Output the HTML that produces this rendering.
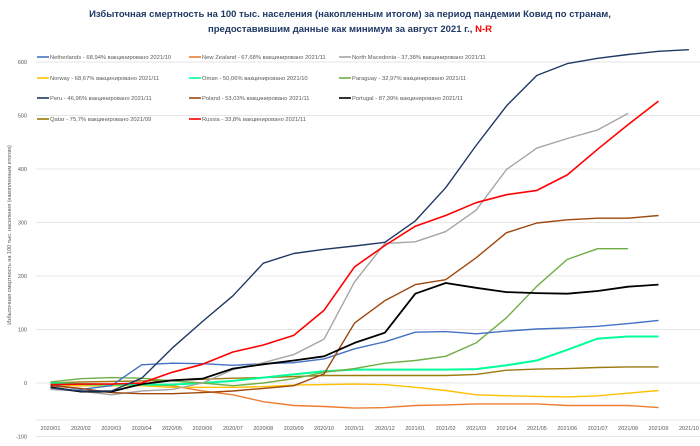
<!DOCTYPE html>
<html><head><meta charset="utf-8"><style>
body{margin:0;background:#fff;}
svg{display:block;font-family:"Liberation Sans","DejaVu Sans",sans-serif;}
</style></head><body>
<svg id="c" width="700" height="446" viewBox="0 0 700 446" xmlns="http://www.w3.org/2000/svg">
<text x="350" y="17" text-anchor="middle" font-size="9.5" font-weight="bold" fill="#1F3864">Избыточная смертность на 100 тыс. населения (накопленным итогом) за период пандемии Ковид  по странам,</text>
<text x="350" y="32" text-anchor="middle" font-size="9.5" font-weight="bold" fill="#1F3864">предоставившим данные как минимум за август 2021 г., <tspan fill="#FF0000">N-R</tspan></text>
<g id="grid" stroke="#E6E6E6" stroke-width="1"></g>
<g id="ylab" font-size="5.5" fill="#595959" text-anchor="end"></g>
<g id="xlab" font-size="5.5" fill="#595959" text-anchor="middle"></g>
<text transform="translate(11,235) rotate(-90)" text-anchor="middle" font-size="5.5" fill="#595959">Избыточная смертность на 100 тыс. населения (накопленным итогом)</text>
<g id="lines" fill="none" stroke-linejoin="round"></g>
<g id="leg" font-size="5.8" fill="#595959"></g>
</svg>
<script>
var ns="http://www.w3.org/2000/svg";
function X(i){return 50.5+30.4*i;}
function Y(v){return 383-0.535*v;}
function el(p,t,a,txt){var e=document.createElementNS(ns,t);for(var k in a)e.setAttribute(k,a[k]);if(txt)e.textContent=txt;document.getElementById(p).appendChild(e);return e;}
for(var v=-100;v<=600;v+=100){el('grid','line',{x1:36,x2:700,y1:Y(v),y2:Y(v)});el('ylab','text',{x:27,y:Y(v)+2},String(v));}
el('grid','line',{x1:36,x2:700,y1:420,y2:420});
var m=['2020/01','2020/02','2020/03','2020/04','2020/05','2020/06','2020/07','2020/08','2020/09','2020/10','2020/11','2020/12','2021/01','2021/02','2021/03','2021/04','2021/05','2021/06','2021/07','2021/08','2021/09','2021/10'];
m.forEach(function(s,i){el('xlab','text',{x:X(i),y:430},s);});
var S=[
['#ED7D31',1.4,[-5,-5,-5,-3,-5,-15,-22,-35,-42,-44,-47,-46,-42,-41,-39,-39,-39,-42,-42,-42,-46]],
['#FFC000',1.4,[-3,-5,-5,-5,-8,-8,-8,-7,-4,-3,-2,-3,-8,-14,-22,-24,-25,-26,-24,-19,-14]],
['#9C7A0C',1.4,[0,2,3,4,5,7,9,10,12,14,14,14,14,14,16,24,26,27,29,30,30]],
['#00FF99',2,[0,-2,-3,-3,-3,0,4,10,16,22,25,25,25,25,26,33,42,62,83,87,87]],
['#70AD47',1.4,[2,8,10,9,4,0,-5,0,8,20,27,37,42,50,75,122,181,231,251,251]],
['#4472C4',1.4,[-3,-12,-5,34,37,36,33,36,38,45,64,77,95,96,92,97,101,103,106,111,117]],
['#A5A5A5',1.4,[-12,-15,-22,-15,-12,0,25,38,53,82,189,261,264,283,323,399,439,457,473,504]],
['#9E480E',1.4,[-5,-10,-18,-20,-20,-18,-15,-10,-5,17,112,154,184,193,234,281,299,305,308,308,313]],
['#000000',1.8,[-8,-16,-16,-2,5,8,27,35,42,50,75,94,167,187,178,170,168,167,172,180,184]],
['#FF0000',1.6,[-3,-2,-2,0,20,35,58,71,89,136,217,257,293,313,337,352,360,389,437,483,527]],
['#203864',1.4,[-9,-15,-15,9,65,115,163,224,242,250,256,263,303,365,444,518,575,597,607,614,620,623]]
];
S.forEach(function(s){var p=s[2].map(function(v,i){return X(i).toFixed(1)+','+Y(v).toFixed(1);}).join(' ');el('lines','polyline',{points:p,stroke:s[0],'stroke-width':s[1]});});
var L=[
['#4472C4','Netherlands - 68,94% вакцинировано 2021/10'],['#ED7D31','New Zealand - 67,68% вакцинировано 2021/11'],['#A5A5A5','North Macedonia - 37,38% вакцинировано 2021/11'],
['#FFC000','Norway - 68,67% вакцинировано 2021/11'],['#00FF99','Oman - 50,06% вакцинировано 2021/10'],['#70AD47','Paraguay - 32,97% вакцинировано 2021/11'],
['#203864','Peru - 46,96% вакцинировано 2021/11'],['#9E480E','Poland - 53,03% вакцинировано 2021/11'],['#000000','Portugal - 87,39% вакцинировано 2021/11'],
['#9C7A0C','Qatar - 75,7% вакцинировано 2021/09'],['#FF0000','Russia - 33,8% вакцинировано 2021/11']];
var cx=[37,189,339],ry=[57,78,98,119];
L.forEach(function(l,i){var x=cx[i%3],y=ry[Math.floor(i/3)];el('leg','line',{x1:x,x2:x+12,y1:y,y2:y,stroke:l[0],'stroke-width':1.6});el('leg','text',{x:x+13,y:y+2},l[1]);});
</script>
</body></html>
